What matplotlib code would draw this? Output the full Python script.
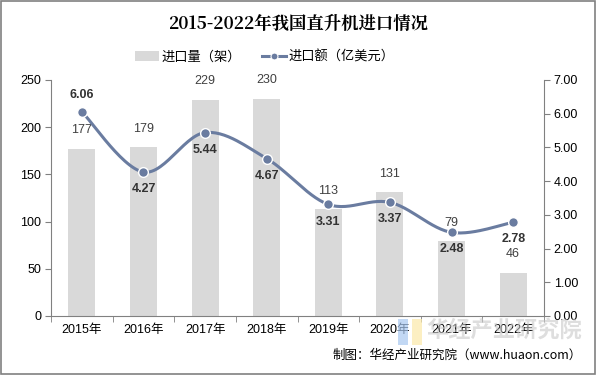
import numpy as np
import matplotlib
matplotlib.use("Agg")
import matplotlib.pyplot as plt
from matplotlib.lines import Line2D
from matplotlib.patches import Patch, Rectangle

plt.rcParams['font.family'] = ['Liberation Sans', 'Noto Sans CJK SC', 'DejaVu Sans']

years = ["2015年", "2016年", "2017年", "2018年", "2019年", "2020年", "2021年", "2022年"]
volume = [177, 179, 229, 230, 113, 131, 79, 46]
amount = [6.06, 4.27, 5.44, 4.67, 3.31, 3.37, 2.48, 2.78]

title = "2015-2022年我国直升机进口情况"
legend_bar = "进口量（架）"
legend_line = "进口额（亿美元）"
source = "制图：华经产业研究院（www.huaon.com）"

bar_color = "#d9d9d9"
line_color = "#6a7ca0"

fig = plt.figure(figsize=(5.97, 3.75), dpi=100)
ax = fig.add_axes([51/597, 1-316/375, (544-51)/597, (316-80)/375])
ax2 = ax.twinx()

x = np.arange(len(years))
bars = ax.bar(x, volume, width=0.44, color=bar_color, zorder=1)
ax.set_xlim(-0.5, len(years)-0.5)
ax.set_ylim(0, 250)
ax.set_yticks(np.arange(0, 251, 50))
ax2.set_ylim(0, 7)
ax2.set_yticks(np.arange(0, 7.01, 1))
ax2.set_yticklabels([f"{v:.2f}" for v in np.arange(0, 7.01, 1)])

ax.set_xticks(x)
ax.set_xticklabels(years)
ax.set_xticks(np.arange(-0.5, len(years), 1), minor=True)
ax.tick_params(axis='x', which='major', length=0, pad=6, labelsize=9, colors='#000000')
ax.tick_params(axis='x', which='minor', length=4, color='#808080')
ax.tick_params(axis='y', length=4, color='#808080', labelsize=9, pad=3)
ax2.tick_params(axis='y', length=4, color='#808080', labelsize=9, pad=3)

for a in (ax, ax2):
    a.spines['top'].set_visible(False)
    for s in ('left', 'right', 'bottom'):
        a.spines[s].set_color('#808080')
        a.spines[s].set_linewidth(0.8)
ax.spines['right'].set_visible(False)
ax2.spines['left'].set_visible(False)
ax2.spines['bottom'].set_visible(False)

for xi, v in zip(x, volume):
    ax.annotate(str(v), (xi, v), xytext=(0, 9), textcoords='offset points',
                ha='center', va='bottom', fontsize=9, color='#404040')

# smooth line (Catmull-Rom through data points)
pts = np.column_stack([x.astype(float), np.array(amount)])
P = np.vstack([pts[0], pts, pts[-1]])
xs, ys = [], []
for i in range(1, len(P)-2):
    p0, p1, p2, p3 = P[i-1], P[i], P[i+1], P[i+2]
    t = np.linspace(0, 1, 30)[:, None]
    c = 0.5*((2*p1) + (-p0+p2)*t + (2*p0-5*p1+4*p2-p3)*t**2 + (-p0+3*p1-3*p2+p3)*t**3)
    xs.extend(c[:, 0]); ys.extend(c[:, 1])
ax2.plot(xs, ys, color=line_color, lw=2.2, zorder=3, solid_capstyle='round')
ax2.plot(x, amount, 'o', color=line_color, ms=7, mec='white', mew=1.0, zorder=4)

for i, (xi, v) in enumerate(zip(x, amount)):
    if i == 0:
        ax2.annotate(f"{v:.2f}", (xi, v), xytext=(0, 8), textcoords='offset points',
                     ha='center', va='bottom', fontsize=9, fontweight='bold', color='#333333')
    else:
        ax2.annotate(f"{v:.2f}", (xi, v), xytext=(0, -8), textcoords='offset points',
                     ha='center', va='top', fontsize=9, fontweight='bold', color='#333333')

fig.text(0.5, 1-24/375, title, ha='center', va='center', fontsize=12.5,
         fontweight='bold', family=['Noto Serif CJK SC', 'Noto Sans CJK SC', 'DejaVu Sans'])

handles = [Patch(facecolor=bar_color, edgecolor='none'),
           Line2D([0], [0], color=line_color, lw=2.2, marker='o', ms=5,
                  mec='white', mew=0.8)]
fig.legend(handles, [legend_bar, legend_line], loc='center', bbox_to_anchor=(265/597, 1-57/375),
           ncol=2, frameon=False, handlelength=1.8, columnspacing=1.6,
           handletextpad=0.2, prop={'family': ['Noto Sans CJK SC'], 'size': 9.5})

# watermark
fig.text(0.975, 1-330/375, "华经产业研究院", ha='right', va='center', fontsize=16,
         fontweight='bold', color='#c8c8c8', alpha=0.6, family=['Noto Sans CJK SC'])
fig.patches.append(Rectangle((398/597, 1-345/375), 10/597, 26/375, transform=fig.transFigure,
                             facecolor='#a9c8f0', alpha=0.7, edgecolor='none'))
fig.patches.append(Rectangle((412/597, 1-345/375), 10/597, 26/375, transform=fig.transFigure,
                             facecolor='#fbe9a8', alpha=0.7, edgecolor='none'))

fig.text(0.975, 1-355/375, source, ha='right', va='center', fontsize=9,
         family=['Noto Sans CJK SC', 'DejaVu Sans'], color='#000000')

fig.patches.append(Rectangle((0.002, 0.003), 0.995, 0.994, transform=fig.transFigure,
                             fill=False, edgecolor='#808080', lw=1.2))

fig.savefig("out.png", dpi=100)
